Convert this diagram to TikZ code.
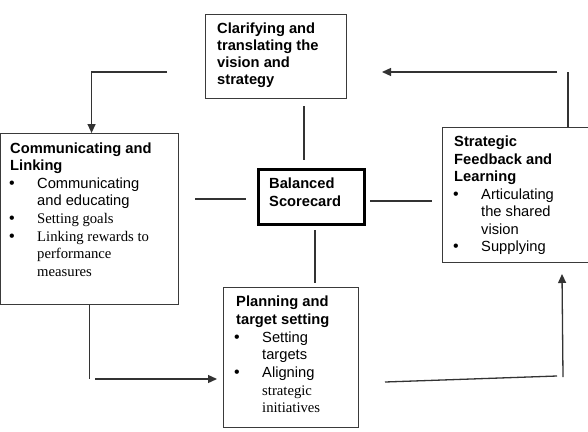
\documentclass[tikz,border=0pt]{standalone}
\usepackage{fontspec}
\setmainfont{Liberation Sans}
\newfontfamily\tms{Liberation Serif}
\usetikzlibrary{arrows.meta}
\definecolor{linec}{HTML}{333333}
\definecolor{boxc}{HTML}{3A3A3A}
\tikzset{
  box/.style={draw=boxc, line width=1.1pt, anchor=north west, inner sep=0pt},
  thickbox/.style={draw=black, line width=3.4pt, anchor=north west, inner sep=0pt},
  con/.style={draw=linec, line width=1.3pt},
  tip/.style={-{Triangle[length=9pt,width=8pt]}},
  ttl/.style={anchor=base west, inner sep=0pt, font=\fontsize{14.7}{17}\selectfont\bfseries},
  itm/.style={anchor=base west, inner sep=0pt, font=\fontsize{14.7}{17}\selectfont},
  itmt/.style={anchor=base west, inner sep=0pt, font=\fontsize{14.7}{17}\selectfont\tms},
  bul/.style={anchor=base, inner sep=0pt, font=\fontsize{16}{17}\selectfont}
}
\begin{document}
\begin{tikzpicture}[x=1pt,y=-1pt]
\useasboundingbox (0,0) rectangle (588,431);
\clip (0,0) rectangle (588,431);
% boxes
\node[box, minimum width=141pt, minimum height=84pt] (T) at (204.5,13.5) {};
\node[box, minimum width=178pt, minimum height=171pt] (L) at (0,133) {};
\node[thickbox, minimum width=106pt, minimum height=55pt] (B) at (257,168) {};
\node[box, minimum width=160pt, minimum height=135pt] (R) at (442,127) {};
\node[box, minimum width=135pt, minimum height=140pt] (P) at (223,287) {};
% top box text
\node[ttl] (t1) at (217,33) {Clarifying and};
\node[ttl] (t2) at (217,50) {translating the};
\node[ttl] (t3) at (217,67) {vision and};
\node[ttl] (t4) at (217,84) {strategy};
% balanced
\node[ttl] (b1) at (269,188.5) {Balanced};
\node[ttl] (b2) at (269,206.5) {Scorecard};
% left box text
\node[ttl] (l1) at (10,153) {Communicating and};
\node[ttl] (l2) at (10,170.5) {Linking};
\node[bul] (lb1) at (12,188) {•};
\node[itm] (l3) at (37,188) {Communicating};
\node[itm] (l4) at (37,205.5) {and educating};
\node[bul] (lb2) at (12,223) {•};
\node[itmt] (l5) at (37,223) {Setting goals};
\node[bul] (lb3) at (12,241.5) {•};
\node[itmt] (l6) at (37,241.5) {Linking rewards to};
\node[itmt] (l7) at (37,258.5) {performance};
\node[itmt] (l8) at (37,276) {measures};
% right box text
\node[ttl] (r1) at (454,146.5) {Strategic};
\node[ttl] (r2) at (454,164) {Feedback and};
\node[ttl] (r3) at (454,181.5) {Learning};
\node[bul] (rb1) at (456,199) {•};
\node[itm] (r4) at (481,199) {Articulating};
\node[itm] (r5) at (481,216.5) {the shared};
\node[itm] (r6) at (481,234) {vision};
\node[bul] (rb2) at (456,251.5) {•};
\node[itm] (r7) at (481,251.5) {Supplying};
% planning box text
\node[ttl] (p1) at (236,306.5) {Planning and};
\node[ttl] (p2) at (236,324) {target setting};
\node[bul] (pb1) at (237,342) {•};
\node[itm] (p3) at (262,342) {Setting};
\node[itm] (p4) at (262,359) {targets};
\node[bul] (pb2) at (237,377) {•};
\node[itm] (p5) at (262,377) {Aligning};
\node[itmt] (p6) at (262,395) {strategic};
\node[itmt] (p7) at (262,412) {initiatives};
% connector coordinates
\coordinate (a1) at (167,72);
\coordinate (a2) at (557,72);
\coordinate (a3) at (382,72);
\coordinate (a4) at (568,72);
\coordinate (a5) at (95,379);
\coordinate (a6) at (217,379);
\coordinate (a7) at (385,382);
\coordinate (a8) at (557,376);
\coordinate (a9) at (563,377);
\coordinate (a10) at (562,274);
\coordinate (s1) at (304,106);
\coordinate (s2) at (304,160);
\coordinate (s3) at (195,199);
\coordinate (s4) at (246,199);
\coordinate (s5) at (370,201);
\coordinate (s6) at (432,201);
\coordinate (s7) at (315,230);
\coordinate (s8) at (315,283);
% connectors
\draw[con, tip] (a1) -| ([xshift=2pt]L.north);
\draw[con, tip] (a2) -- (a3);
\draw[con] (a4) -- (a4 |- R.north);
\draw[con] (L.south) -- (L.south |- a5);
\draw[con, tip] (a5) -- (a6);
\draw[con] (a7) -- (a8);
\draw[con, tip] (a9) -- (a10);
% spokes
\draw[con] (s1) -- (s2);
\draw[con] (s3) -- (s4);
\draw[con] (s5) -- (s6);
\draw[con] (s7) -- (s8);
\end{tikzpicture}
\end{document}
